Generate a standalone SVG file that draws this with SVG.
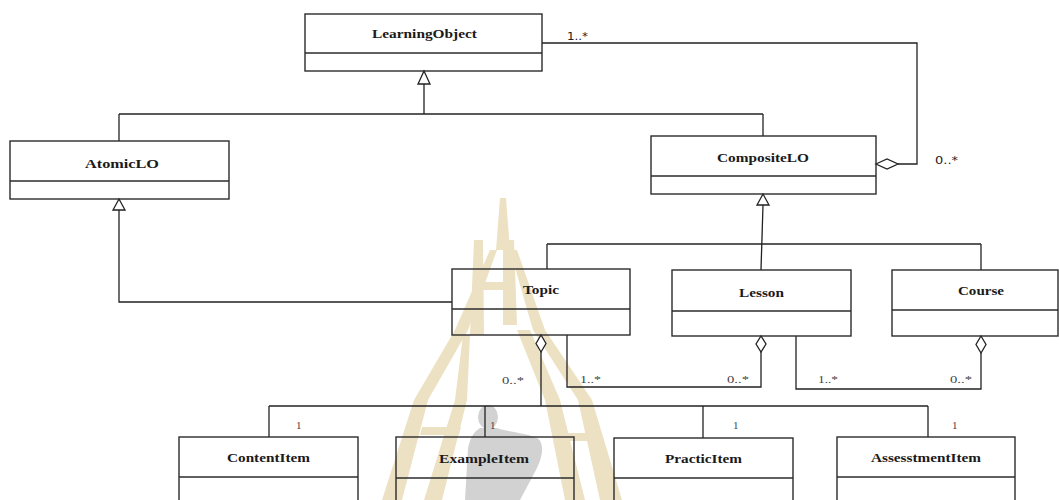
<svg xmlns="http://www.w3.org/2000/svg" width="1059" height="500" viewBox="0 0 1059 500">
  <style>
    .box { fill: none; stroke: #2b2b2b; stroke-width: 1.4; }
    .line { fill: none; stroke: #222; stroke-width: 1.3; }
    .gen { fill: #fff; stroke: #222; stroke-width: 1.3; }
    .agg { fill: #fff; stroke: #222; stroke-width: 1.3; }
    .name { font-family: "Liberation Serif", "Times New Roman", serif; font-weight: bold; font-size: 12.5px; fill: #1a1a1a; }
    .mult { font-family: "Liberation Serif", "Times New Roman", serif; font-size: 11px; fill: #444; }
    .multsans { font-family: "DejaVu Sans", sans-serif; font-size: 11px; fill: #222; }
    .wm { fill: #ede1c3; }
    .fig { fill: #d2d2d2; }
  </style>

  <rect width="1059" height="500" fill="#fff"/>

  <!-- faint emblem behind the lower part of the diagram -->
  <g id="emblem">
    <polygon class="wm" points="500,198 506,198 510,250 496,250"/>
    <polygon class="wm" points="474,240 483,240 484,335 470,335"/>
    <polygon class="wm" points="503,240 514,240 517,325 503,325"/>
    <polygon class="wm" points="483,282 503,282 503,290 483,290"/>
    <polygon class="wm" points="490,250 497,250 468,330 428,400 402,500 382,500 414,400 455,330"/>
    <polygon class="wm" points="463,335 470,335 467,400 442,500 424,500 455,400"/>
    <polygon class="wm" points="422,427 461,427 459,435 420,435"/>
    <polygon class="wm" points="510,250 517,250 545,330 592,400 622,500 600,500 578,400 533,330"/>
    <polygon class="wm" points="517,330 530,330 560,400 585,500 565,500 545,400"/>
    <polygon class="wm" points="560,433 595,433 597,441 562,441"/>
    <ellipse class="fig" cx="488" cy="417" rx="10" ry="12"/>
    <path class="fig" d="M480,428 C472,433 470,440 468,448 L465,500 L520,500 L536,470 C544,455 544,442 537,438 C524,432 506,432 497,428 Z"/>
  </g>

  <g id="connectors">
    <!-- LearningObject generalization -->
    <polygon class="gen" points="424,71 418,84 430,84"/>
    <polyline class="line" points="424,84 424,114"/>
    <polyline class="line" points="119,114 763,114"/>
    <polyline class="line" points="119,114 119,141"/>
    <polyline class="line" points="763,114 763,136"/>

    <!-- LearningObject 1..* / 0..* CompositeLO aggregation -->
    <polyline class="line" points="542,43 917,43 917,164 898,164"/>
    <polygon class="agg" points="876,164 887,159 898,164 887,169"/>

    <!-- AtomicLO generalization -->
    <polygon class="gen" points="119,199 113,210 125,210"/>
    <polyline class="line" points="119,210 119,302 452,302"/>

    <!-- CompositeLO generalization -->
    <polygon class="gen" points="763,194 757,205 769,205"/>
    <polyline class="line" points="763,205 761,270"/>
    <polyline class="line" points="547,244 981,244"/>
    <polyline class="line" points="547,244 547,269"/>
    <polyline class="line" points="981,244 981,270"/>

    <!-- Topic aggregation of items -->
    <polygon class="agg" points="541,335 546,343.5 541,352 536,343.5"/>
    <polyline class="line" points="541,352 541,406"/>
    <polyline class="line" points="269,406 928,406"/>
    <polyline class="line" points="269,406 269,437"/>
    <polyline class="line" points="485,406 485,437"/>
    <polyline class="line" points="703,406 703,438"/>
    <polyline class="line" points="928,406 928,437"/>

    <!-- Topic / Lesson -->
    <polyline class="line" points="567,335 567,387 761,387 761,352"/>
    <polygon class="agg" points="761,336 766,344 761,352 756,344"/>

    <!-- Lesson / Course -->
    <polyline class="line" points="796,336 796,389 981,389 981,353"/>
    <polygon class="agg" points="981,336 986,344.5 981,353 976,344.5"/>

    <!-- multiplicities -->
    <text class="multsans" x="567" y="40" textLength="21" lengthAdjust="spacingAndGlyphs">1..*</text>
    <text class="multsans" x="935" y="164" textLength="23" lengthAdjust="spacingAndGlyphs">0..*</text>
    <text class="mult" x="502" y="384" textLength="22" lengthAdjust="spacingAndGlyphs">0..*</text>
    <text class="mult" x="580" y="383" textLength="21" lengthAdjust="spacingAndGlyphs">1..*</text>
    <text class="mult" x="727" y="383" textLength="22" lengthAdjust="spacingAndGlyphs">0..*</text>
    <text class="mult" x="818" y="383" textLength="20" lengthAdjust="spacingAndGlyphs">1..*</text>
    <text class="mult" x="950" y="383" textLength="22" lengthAdjust="spacingAndGlyphs">0..*</text>
    <text class="mult" x="296" y="429">1</text>
    <text class="mult" x="490" y="429">1</text>
    <text class="mult" x="733" y="429">1</text>
    <text class="mult" x="952" y="429">1</text>
  </g>

  <g id="LearningObject">
    <rect class="box" x="305" y="14" width="237" height="57"/>
    <line class="box" x1="305" y1="53" x2="542" y2="53"/>
    <text class="name" x="372" y="38" textLength="105" lengthAdjust="spacingAndGlyphs">LearningObject</text>
  </g>

  <g id="AtomicLO">
    <rect class="box" x="10" y="141" width="219" height="58"/>
    <line class="box" x1="10" y1="181" x2="229" y2="181"/>
    <text class="name" x="85" y="168" textLength="74" lengthAdjust="spacingAndGlyphs">AtomicLO</text>
  </g>

  <g id="CompositeLO">
    <rect class="box" x="651" y="136" width="225" height="58"/>
    <line class="box" x1="651" y1="176" x2="876" y2="176"/>
    <text class="name" x="717" y="162" textLength="92" lengthAdjust="spacingAndGlyphs">CompositeLO</text>
  </g>

  <g id="Topic">
    <rect class="box" x="452" y="269" width="178" height="66"/>
    <line class="box" x1="452" y1="309" x2="630" y2="309"/>
    <text class="name" x="523" y="294" textLength="36" lengthAdjust="spacingAndGlyphs">Topic</text>
  </g>

  <g id="Lesson">
    <rect class="box" x="672" y="270" width="179" height="66"/>
    <line class="box" x1="672" y1="311" x2="851" y2="311"/>
    <text class="name" x="739" y="297" textLength="45" lengthAdjust="spacingAndGlyphs">Lesson</text>
  </g>

  <g id="Course">
    <rect class="box" x="892" y="270" width="166" height="66"/>
    <line class="box" x1="892" y1="310" x2="1058" y2="310"/>
    <text class="name" x="958" y="295" textLength="46" lengthAdjust="spacingAndGlyphs">Course</text>
  </g>

  <g id="ContentItem">
    <rect class="box" x="179" y="437" width="179" height="80"/>
    <line class="box" x1="179" y1="477" x2="358" y2="477"/>
    <text class="name" x="227" y="462" textLength="83" lengthAdjust="spacingAndGlyphs">ContentItem</text>
  </g>

  <g id="ExampleItem">
    <rect class="box" x="396" y="437" width="178" height="80"/>
    <line class="box" x1="396" y1="478" x2="574" y2="478"/>
    <text class="name" x="439" y="463" textLength="90" lengthAdjust="spacingAndGlyphs">ExampleItem</text>
  </g>

  <g id="PracticItem">
    <rect class="box" x="614" y="438" width="179" height="80"/>
    <line class="box" x1="614" y1="478" x2="793" y2="478"/>
    <text class="name" x="665" y="463" textLength="77" lengthAdjust="spacingAndGlyphs">PracticItem</text>
  </g>

  <g id="AssesstmentItem">
    <rect class="box" x="837" y="437" width="178" height="80"/>
    <line class="box" x1="837" y1="477" x2="1015" y2="477"/>
    <text class="name" x="871" y="462" textLength="110" lengthAdjust="spacingAndGlyphs">AssesstmentItem</text>
  </g>
</svg>
